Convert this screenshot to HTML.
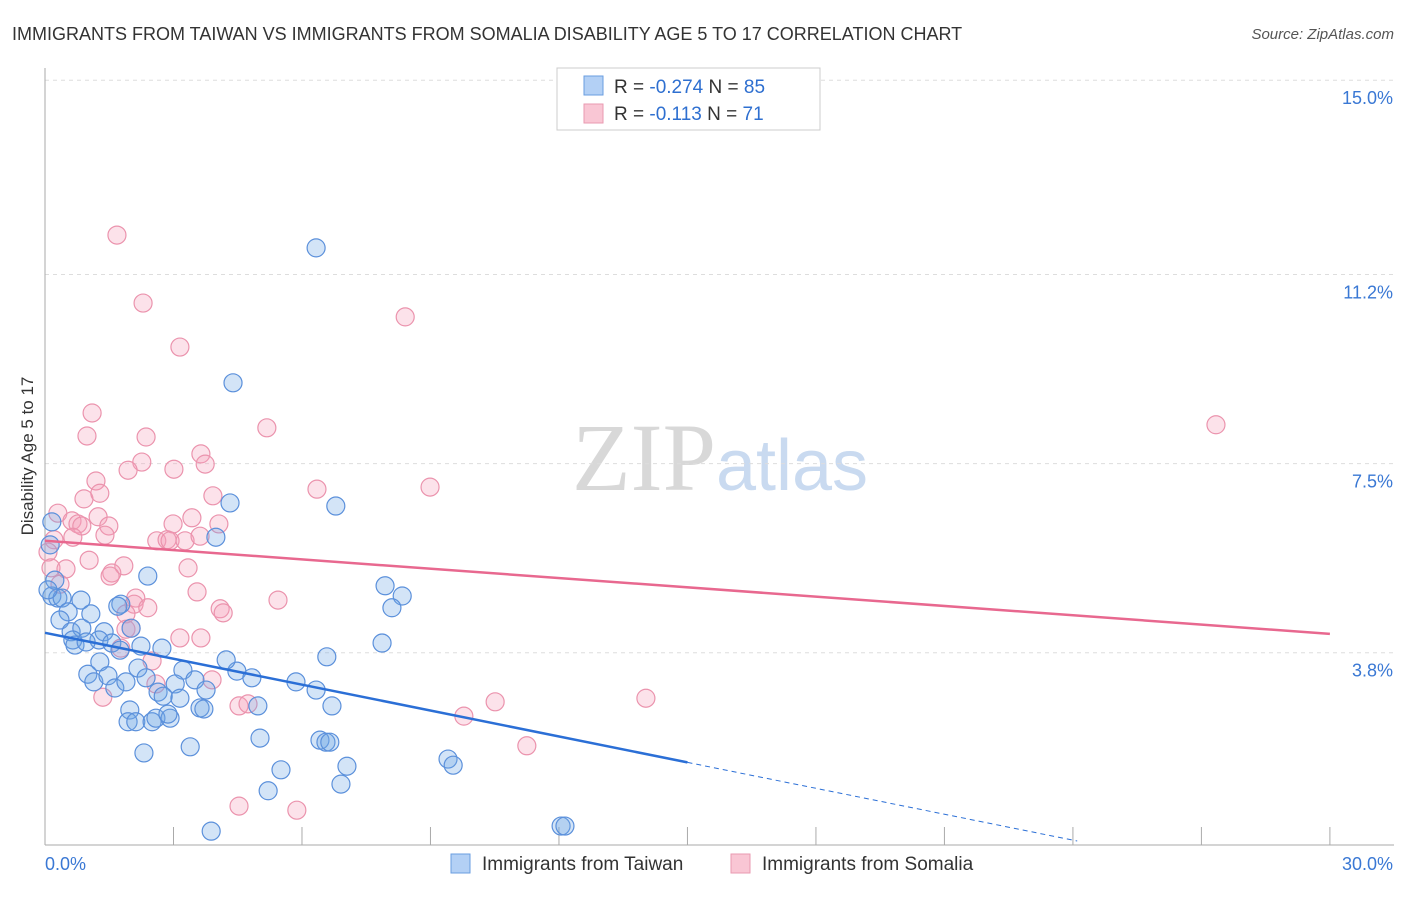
<!DOCTYPE html>
<html><head><meta charset="utf-8"><style>
body{margin:0;background:#fff;font-family:"Liberation Sans",sans-serif;}
svg text{font-family:"Liberation Sans",sans-serif;}
</style></head><body>
<svg id="chart" width="1406" height="892" xmlns="http://www.w3.org/2000/svg">
<text x="12" y="40" font-size="18" fill="#333">IMMIGRANTS FROM TAIWAN VS IMMIGRANTS FROM SOMALIA DISABILITY AGE 5 TO 17 CORRELATION CHART</text>
<text x="1394" y="39" font-size="15" fill="#555" text-anchor="end" font-style="italic">Source: ZipAtlas.com</text>
<text transform="translate(33,456) rotate(-90)" font-size="17" fill="#333" text-anchor="middle">Disability Age 5 to 17</text>
<text x="720" y="490" font-size="96" text-anchor="middle"><tspan fill="#d8d8d8" font-family="Liberation Serif">ZIP</tspan><tspan fill="#c9daf0" font-size="72">atlas</tspan></text>
<g id="grid"></g><g id="axes"></g><g id="pts"></g><g id="trends"></g>
<g>
<rect x="557" y="68" width="263" height="62" fill="#fff" stroke="#ccc"/>
<rect x="584" y="76" width="19" height="19" fill="#b3d0f5" stroke="#6a9ee0"/>
<rect x="584" y="104" width="19" height="19" fill="#f9c6d4" stroke="#e99ab0"/>
<text x="614" y="93" font-size="19" fill="#333">R = <tspan fill="#2e6fd0">-0.274</tspan>    N = <tspan fill="#2e6fd0">85</tspan></text>
<text x="614" y="120" font-size="19" fill="#333">R =   <tspan fill="#2e6fd0">-0.113</tspan>    N =  <tspan fill="#2e6fd0">71</tspan></text>
</g>
<g>
<rect x="451" y="854" width="19" height="19" fill="#b3d0f5" stroke="#6a9ee0"/>
<text x="482" y="870" font-size="19" fill="#333">Immigrants from Taiwan</text>
<rect x="731" y="854" width="19" height="19" fill="#f9c6d4" stroke="#e99ab0"/>
<text x="762" y="870" font-size="19" fill="#333">Immigrants from Somalia</text>
</g>
</svg>
<script>
const yTicks=[15.0,11.2,7.5,3.8];
const yTickLabels=["15.0%","11.2%","7.5%","3.8%"];
const xTickVals=[0,3,6,9,12,15,18,21,24,27,30];
const taiwanX=[6.33,4.39,4.32,6.79,3.99,2.40,7.94,8.34,8.10,1.77,0.84,0.16,0.30,0.40,0.54,1.07,0.35,0.61,0.86,1.38,2.01,1.70,1.26,0.65,0.70,0.96,1.56,2.24,2.73,7.87,6.58,1.28,2.17,3.22,4.48,4.83,1.00,1.14,1.47,1.63,1.89,2.36,3.04,3.50,5.86,6.33,2.64,2.76,3.15,1.98,3.62,3.71,6.70,1.94,2.12,2.50,2.59,2.92,2.87,5.02,6.42,6.56,6.65,3.39,2.31,9.41,9.53,7.05,5.51,6.91,5.21,3.88,12.05,12.14,0.16,0.12,0.23,0.07,1.75,4.23,4.97,3.76];
const taiwanY=[11.72,9.08,6.73,6.67,6.06,5.30,5.11,4.91,4.68,4.75,4.83,4.91,4.87,4.87,4.60,4.56,4.44,4.21,4.28,4.21,4.28,4.71,4.05,4.05,3.95,4.01,3.99,3.93,3.89,3.99,3.72,3.62,3.50,3.46,3.44,3.31,3.38,3.23,3.35,3.11,3.23,3.31,3.19,3.27,3.23,3.07,3.03,2.95,2.91,2.68,2.72,2.70,2.76,2.45,2.45,2.45,2.52,2.52,2.60,2.13,2.09,2.05,2.05,1.96,1.84,1.72,1.60,1.58,1.51,1.23,1.10,0.31,0.41,0.41,6.36,5.91,5.22,5.03,3.85,3.66,2.76,3.07];
const somaliaX=[1.68,2.29,8.41,3.15,1.10,0.98,2.36,5.18,27.34,3.64,2.26,1.94,3.01,3.74,1.19,6.35,8.99,0.91,1.28,3.92,0.30,0.63,1.24,0.77,0.86,3.43,4.06,2.99,1.49,0.65,1.40,2.61,2.85,2.92,3.27,3.62,0.21,0.07,0.14,1.03,1.84,1.56,0.49,3.34,0.35,1.52,3.55,2.12,2.08,2.40,5.44,4.09,4.16,1.89,1.89,2.01,3.15,3.64,2.50,1.77,2.59,3.90,1.35,14.03,10.51,4.53,4.74,9.78,11.25,4.53,5.88];
const somaliaY=[11.97,10.64,10.37,9.78,8.49,8.04,8.02,8.20,8.26,7.69,7.53,7.37,7.39,7.49,7.16,7.00,7.04,6.81,6.92,6.87,6.53,6.38,6.46,6.32,6.28,6.44,6.32,6.32,6.28,6.06,6.10,5.99,6.01,5.99,5.99,6.08,6.01,5.77,5.46,5.61,5.50,5.36,5.44,5.46,5.14,5.30,4.99,4.87,4.75,4.68,4.83,4.66,4.58,4.56,4.26,4.28,4.09,4.09,3.64,3.89,3.19,3.27,2.93,2.91,2.84,2.76,2.80,2.56,1.98,0.80,0.72];
const taiwanTrend=[4.19,-0.169];
const somaliaTrend=[5.99,-0.0607];
const NS="http://www.w3.org/2000/svg";
function sx(v){return 45+v*42.83;}
function sy(v){return 847-v*51.12;}
function mk(tag,attrs,parent){const e=document.createElementNS(NS,tag);for(const k in attrs)e.setAttribute(k,attrs[k]);parent.appendChild(e);return e;}
const grid=document.getElementById('grid'),axes=document.getElementById('axes'),pts=document.getElementById('pts'),tr=document.getElementById('trends');
yTicks.forEach((t,i)=>{
const l=mk('line',{x1:45,x2:1394,y1:sy(t),y2:sy(t),stroke:'#ddd','stroke-dasharray':'4,4'},grid);


const tx=mk('text',{x:1393,y:sy(t)+24,'font-size':18,fill:'#3a78d4','text-anchor':'end'},grid);
tx.textContent=yTickLabels[i];


});
const ya=mk('line',{x1:45,x2:45,y1:68,y2:845,stroke:'#aaa'},axes);


const xa=mk('line',{x1:45,x2:1394,y1:845,y2:845,stroke:'#aaa'},axes);


xTickVals.forEach(v=>{
const t=mk('line',{x1:sx(v),x2:sx(v),y1:827,y2:845,stroke:'#aaa'},axes);


});
const xl0=mk('text',{x:45,y:870,'font-size':18,fill:'#3a78d4'},axes);xl0.textContent='0.0%';


const xl1=mk('text',{x:1393,y:870,'font-size':18,fill:'#3a78d4','text-anchor':'end'},axes);xl1.textContent='30.0%';


somaliaX.forEach((x,i)=>{
const c=mk('circle',{cx:sx(x),cy:sy(somaliaY[i]),r:9,fill:'rgba(244,160,185,0.3)',stroke:'#eb93ad','stroke-width':1.2},pts);


});
taiwanX.forEach((x,i)=>{
const c=mk('circle',{cx:sx(x),cy:sy(taiwanY[i]),r:9,fill:'rgba(110,165,230,0.3)',stroke:'#5b90db','stroke-width':1.2},pts);


});
const f=(p,x)=>p[0]+p[1]*x;
const b1=mk('line',{x1:sx(0),y1:sy(f(taiwanTrend,0)),x2:sx(15),y2:sy(f(taiwanTrend,15)),stroke:'#2b6fd6','stroke-width':2.5},tr);


const b2=mk('line',{x1:sx(15),y1:sy(f(taiwanTrend,15)),x2:sx(24.1),y2:sy(f(taiwanTrend,24.1)),stroke:'#2b6fd6','stroke-width':1,'stroke-dasharray':'5,4'},tr);


const p1=mk('line',{x1:sx(0),y1:sy(f(somaliaTrend,0)),x2:sx(30),y2:sy(f(somaliaTrend,30)),stroke:'#e8688f','stroke-width':2.5},tr);


</script>
</body></html>
